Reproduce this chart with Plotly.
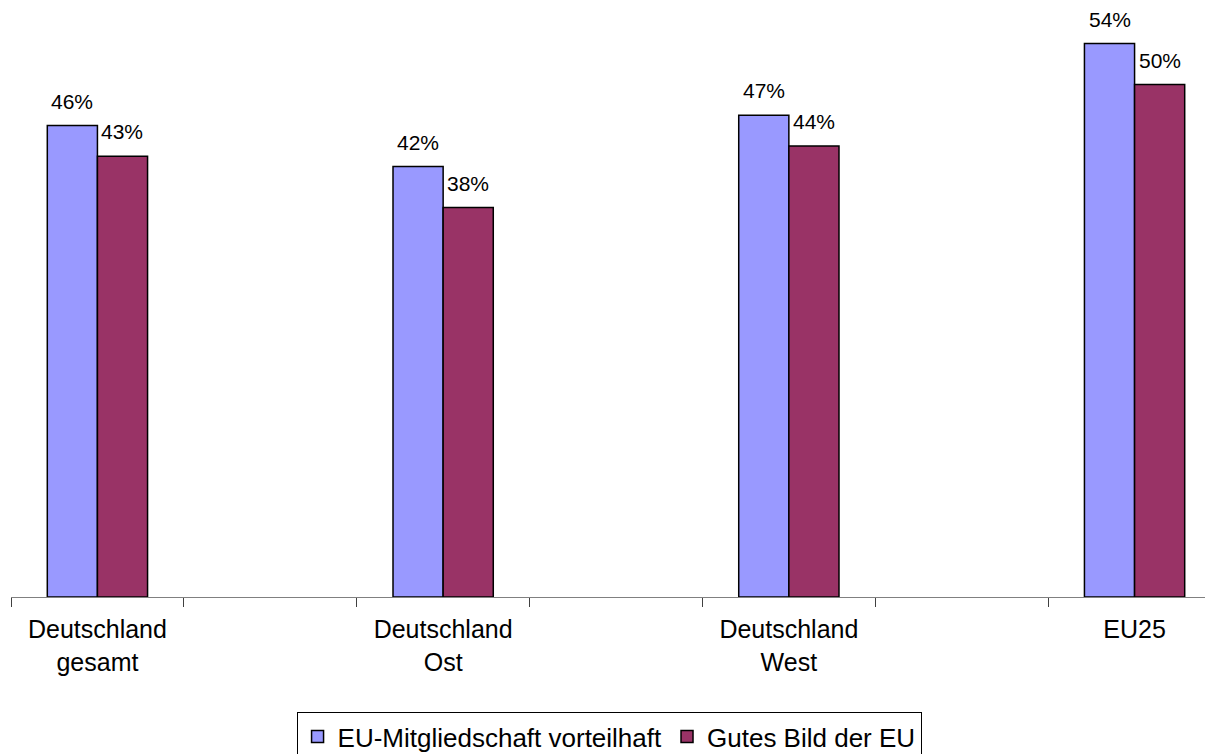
import plotly.graph_objects as go

# ---- data ----
categories = ["Deutschland<br>gesamt", "Deutschland<br>Ost", "Deutschland<br>West", "EU25"]
vorteilhaft = [46, 42, 47, 54]
gutes_bild = [43, 38, 44, 50]
series_names = ["EU-Mitgliedschaft vorteilhaft", "Gutes Bild der EU"]

# ---- styling ----
FONT = "Liberation Sans, Arial, sans-serif"
COL_BLUE = "#9999FF"
COL_RED = "#993366"
W, H = 1213, 754
ML, MR, MT, MB = 3, 0, 0, 165
BARGAP = 0.42

# spacer slots between categories (Excel layout with blank categories)
slots = []
for i, c in enumerate(categories):
    slots.append(c)
    if i < len(categories) - 1:
        slots.append(" " * (i + 1))

n_slots = len(slots)
plot_w = W - ML - MR
plot_h = H - MT - MB
slot_px = plot_w / n_slots

fig = go.Figure()
for name, vals, col in [(series_names[0], vorteilhaft, COL_BLUE),
                        (series_names[1], gutes_bild, COL_RED)]:
    fig.add_trace(go.Bar(
        x=categories, y=vals, name=name,
        marker=dict(color=col, line=dict(color="black", width=1.5)),
        hoverinfo="x+y",
    ))

bar_px = (1 - BARGAP) / 2 * slot_px
for k, vals in enumerate([vorteilhaft, gutes_bild]):
    shift = (k - 0.5) * bar_px
    for c, v in zip(categories, vals):
        fig.add_annotation(
            x=c, y=v, text=f"{v}%", showarrow=False,
            xshift=shift, yshift=11, yanchor="bottom",
            font=dict(family=FONT, size=21, color="black"),
        )

y_top = plot_h / 10.25

fig.update_layout(
    width=W, height=H,
    margin=dict(l=ML, r=MR, t=MT, b=MB, pad=0),
    paper_bgcolor="white", plot_bgcolor="white",
    barmode="group", bargap=BARGAP, bargroupgap=0,
    font=dict(family=FONT, color="black"),
    showlegend=True,
    legend=dict(
        orientation="h", x=0.236, xanchor="left",
        y=-115 / plot_h, yanchor="top",
        bordercolor="black", borderwidth=1, bgcolor="white",
        font=dict(family=FONT, size=26, color="black"),
        itemwidth=30, tracegroupgap=0,
    ),
    xaxis=dict(
        type="category", categoryorder="array", categoryarray=slots,
        range=[-0.5, n_slots - 0.5],
        tickson="boundaries", ticks="outside", ticklen=9, tickcolor="#404040",
        showline=True, linecolor="#808080", linewidth=1,
        showgrid=False, zeroline=False,
        ticklabelstandoff=10,
        tickfont=dict(family=FONT, size=25, color="black"),
    ),
    yaxis=dict(
        range=[0, y_top], visible=False, showgrid=False, zeroline=False,
    ),
)

fig.write_html("out.html")
